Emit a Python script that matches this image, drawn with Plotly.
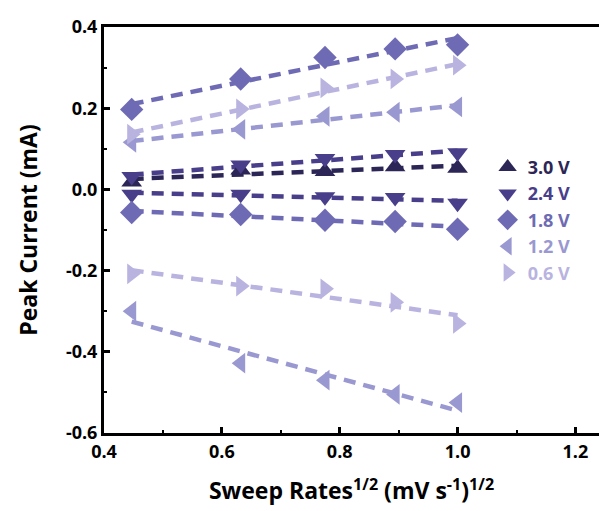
import numpy as np
import plotly.graph_objects as go

sweep_sqrt = [0.447, 0.632, 0.775, 0.894, 1.0]
labels = ["3.0 V", "2.4 V", "1.8 V", "1.2 V", "0.6 V"]
colors = ["#2c2656", "#483e8a", "#6e6bb4", "#9a98d0", "#b9b3e0"]
symbols = ["triangle-up", "triangle-down", "diamond", "triangle-left", "triangle-right"]

# anodic / cathodic peak currents (mA)
v30_a = [0.018, 0.048, 0.044, 0.056, 0.052]
v24_a = [0.032, 0.060, 0.076, 0.086, 0.090]
v24_c = [-0.012, -0.012, -0.018, -0.020, -0.034]
v18_a = [0.197, 0.272, 0.325, 0.346, 0.356]
v18_c = [-0.057, -0.062, -0.076, -0.079, -0.098]
v12_a = [0.116, 0.148, 0.180, 0.190, 0.203]
v12_c = [-0.300, -0.428, -0.470, -0.505, -0.525]
v06_a = [0.136, 0.198, 0.250, 0.272, 0.306]
v06_c = [-0.208, -0.238, -0.245, -0.278, -0.330]

series = [
    [v30_a],
    [v24_a, v24_c],
    [v18_a, v18_c],
    [v12_a, v12_c],
    [v06_a, v06_c],
]

fig = go.Figure()
x = np.array(sweep_sqrt)
for col, branches in zip(colors, series):
    for ys in branches:
        k, b = np.polyfit(x, np.array(ys), 1)
        xs = [float(x[0]), float(x[-1])]
        fig.add_trace(go.Scatter(x=xs, y=[float(k * xs[0] + b), float(k * xs[1] + b)], mode="lines",
                                 line=dict(color=col, width=4.5, dash="12px,8px"),
                                 showlegend=False, hoverinfo="skip"))
for lab, col, sym, branches in zip(labels, colors, symbols, series):
    for i, ys in enumerate(branches):
        fig.add_trace(go.Scatter(x=sweep_sqrt, y=ys, mode="markers",
                                 name=f"<b><span style='color:{col}'>{lab}</span></b>",
                                 legendgroup=lab, showlegend=(i == 0),
                                 marker=dict(symbol=sym, size=18, color=col, line=dict(width=0))))

ff = "Open Sans, DejaVu Sans, sans-serif"
ink = "#000000"
fig.update_layout(
    width=599, height=511,
    margin=dict(l=104, r=0, t=27, b=78),
    plot_bgcolor="white", paper_bgcolor="white",
    legend=dict(x=0.775, y=0.70, xanchor="left", yanchor="top",
                bgcolor="rgba(0,0,0,0)", borderwidth=0,
                font=dict(size=18, family=ff),
                tracegroupgap=0, itemwidth=30),
    xaxis=dict(range=[0.4, 1.24], tickvals=[0.4, 0.6, 0.8, 1.0, 1.2],
               ticktext=["<b>0.4</b>", "<b>0.6</b>", "<b>0.8</b>", "<b>1.0</b>", "<b>1.2</b>"],
               showline=True, linecolor=ink, linewidth=3, mirror=True,
               ticks="inside", ticklen=6, tickwidth=3, tickcolor=ink,
               minor=dict(ticks="inside", ticklen=3, tickwidth=2, tickcolor=ink, dtick=0.1),
               showgrid=False, zeroline=False,
               tickfont=dict(size=18, family=ff, color="black"),
               title=dict(text="<b>Sweep Rates<sup>1/2</sup> (mV s<sup>-1</sup>)<sup>1/2</sup></b>",
                          font=dict(size=23, family=ff, color="black"), standoff=22)),
    yaxis=dict(range=[-0.6, 0.4], tickvals=[-0.6, -0.4, -0.2, 0.0, 0.2, 0.4],
               ticktext=["<b>-0.6</b>", "<b>-0.4</b>", "<b>-0.2</b>", "<b>0.0</b>", "<b>0.2</b>", "<b>0.4</b>"],
               showline=True, linecolor=ink, linewidth=3,
               ticks="inside", ticklen=6, tickwidth=3, tickcolor=ink,
               minor=dict(ticks="inside", ticklen=3, tickwidth=2, tickcolor=ink, dtick=0.1),
               showgrid=False, zeroline=False,
               tickfont=dict(size=18, family=ff, color="black"),
               title=dict(text="<b>Peak Current (mA)</b>",
                          font=dict(size=23, family=ff, color="black"), standoff=22)),
)
fig.write_html("out.html")
